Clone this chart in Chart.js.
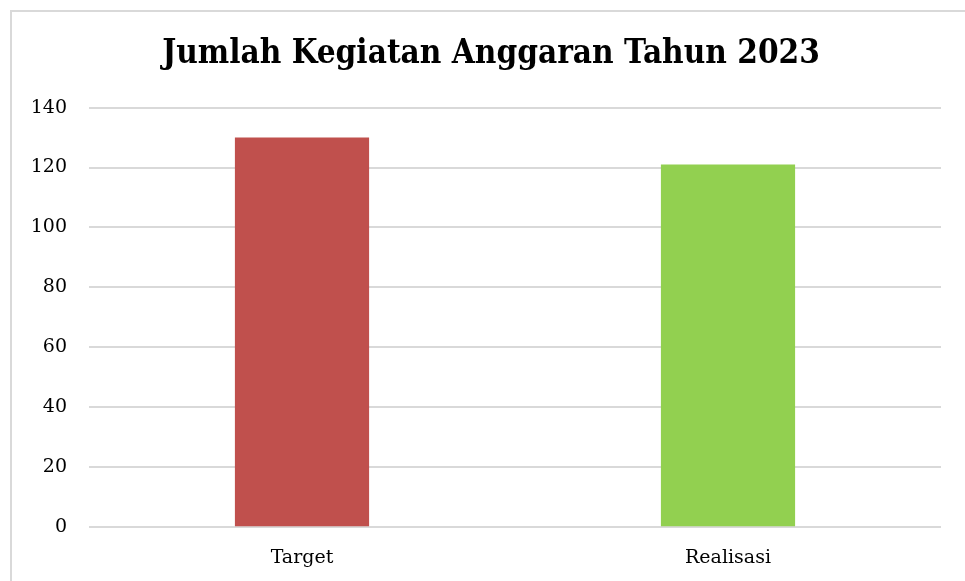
<!DOCTYPE html>
<html>
<head>
<meta charset="utf-8">
<script src="https://cdn.jsdelivr.net/npm/chart.js@4"></script>
<style>
  html, body { margin: 0; padding: 0; background: #fff; overflow: hidden; }
  .frame { position: absolute; left: 10px; top: 10px; width: 965px; height: 581px;
           border-left: 2px solid #d9d9d9; border-top: 2px solid #d9d9d9; box-sizing: border-box; }
  .wrap { position: absolute; left: 0; top: 0; width: 953px; height: 569px; }
</style>
</head>
<body>
<div class="frame"><div class="wrap"><canvas id="c"></canvas></div></div>
<script>
const categories = ['Target', 'Realisasi'];
const values = [130, 121];
const barColors = ['#C0504D', '#92D050'];
const yTicks = [0, 20, 40, 60, 80, 100, 120, 140];

const FONT = '"DejaVu Serif", "Liberation Serif", serif';
const TITLE_FONT = '"DejaVu Serif Condensed", "DejaVu Serif", serif';

// the left padding only shifts the title; let the y labels use the full left edge
const widenYAxis = {
  id: 'widenYAxis',
  afterLayout(chart) { chart.scales.y.left = 0; }
};

new Chart(document.getElementById('c'), {
  type: 'bar',
  data: {
    labels: categories,
    datasets: [{
      data: values,
      backgroundColor: barColors,
      barPercentage: 0.315,
      categoryPercentage: 1.0
    }]
  },
  options: {
    responsive: true, maintainAspectRatio: false, animation: false,
    layout: { padding: { left: 29, right: 24, top: 8, bottom: 1 } },
    plugins: {
      legend: { display: false },
      tooltip: { enabled: false },
      title: {
        display: true,
        text: 'Jumlah Kegiatan Anggaran Tahun 2023',
        color: '#000',
        font: { family: TITLE_FONT, size: 33, weight: 'bold' },
        padding: { top: 15, bottom: 33 }
      }
    },
    scales: {
      x: {
        grid: { display: false },
        border: { display: false },
        ticks: { color: '#000', font: { family: FONT, size: 19 }, padding: 11 }
      },
      y: {
        min: 0, max: 140,
        afterBuildTicks: s => { s.ticks = yTicks.map(v => ({ value: v })); },
        afterFit: s => { s.width = 48; },
        grid: { color: '#d9d9d9', lineWidth: 2, drawTicks: false },
        border: { display: false },
        ticks: { color: '#000', font: { family: FONT, size: 19 }, padding: 22 }
      }
    }
  },
  plugins: [widenYAxis]
});
</script>
</body>
</html>
